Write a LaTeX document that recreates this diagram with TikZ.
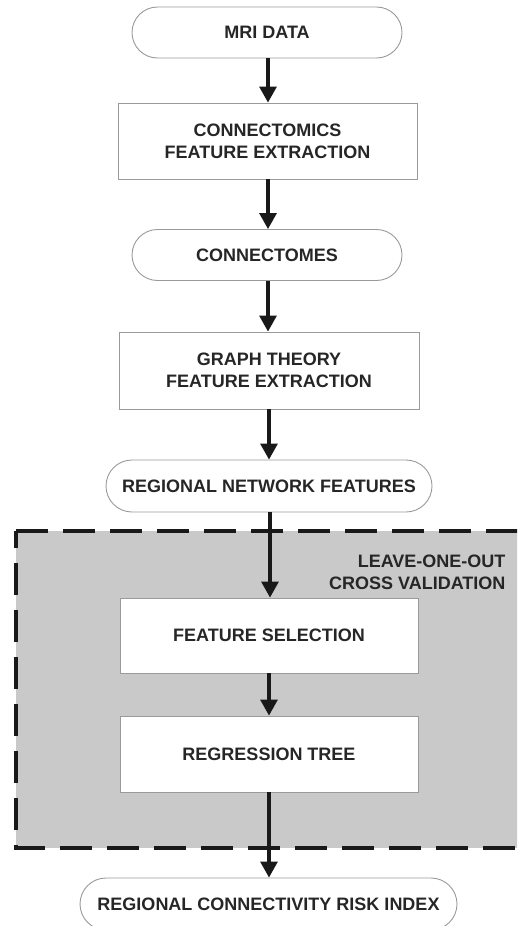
\documentclass[tikz,border=0pt]{standalone}
\usepackage{fontspec}
\setmainfont{Liberation Sans}
\usetikzlibrary{arrows.meta,shapes.misc}
\definecolor{edgegray}{HTML}{9A9A9A}
\definecolor{cvgray}{HTML}{C9C9C9}
\tikzset{
  every node/.style={font=\bfseries\fontsize{18}{22}\selectfont, text=black!85},
  term/.style={draw=edgegray, line width=0.9pt, fill=white, rounded rectangle, minimum height=51pt, inner xsep=0pt, align=center},
  proc/.style={draw=edgegray, line width=0.9pt, fill=white, rectangle, inner sep=0pt, align=center},
  flow/.style={line width=3.2pt, draw=black!90, -{Triangle[width=17pt,length=16pt]}, shorten >=0pt},
  cvbox/.style={fill=cvgray, draw=black!90, line width=3.5pt, dash pattern=on 32pt off 15pt}
}
\begin{document}
\begin{tikzpicture}[x=1pt,y=-1pt]
\useasboundingbox (0,0) rectangle (517,926);
\begin{scope}
  \clip (0,0) rectangle (517,926);
  % cross-validation region
  \draw[cvbox] (16,531) -- (530,531) -- (530,848) -- (16,848) -- cycle;
\end{scope}
\node[anchor=north east, align=right] (cvlabel) at (509,551) {LEAVE-ONE-OUT\\CROSS VALIDATION};

% pipeline nodes
\node[term, minimum width=270pt] (mri) at (267,32.5) {MRI DATA};
\node[proc, minimum width=299pt, minimum height=76pt] (cfe) at (267.5,141) {CONNECTOMICS\\FEATURE EXTRACTION};
\node[term, minimum width=270pt] (conn) at (267,255) {CONNECTOMES};
\node[proc, minimum width=300pt, minimum height=77pt] (gfe) at (269,370.5) {GRAPH THEORY\\FEATURE EXTRACTION};
\node[term, minimum width=326pt, minimum height=52pt] (rnf) at (269,486) {REGIONAL NETWORK FEATURES};
\node[proc, minimum width=298pt, minimum height=75pt] (fs) at (269,635.5) {FEATURE SELECTION};
\node[proc, minimum width=298pt, minimum height=76pt] (rt) at (269,754) {REGRESSION TREE};
\node[term, minimum width=377pt, minimum height=52pt] (rcri) at (268.5,904) {REGIONAL CONNECTIVITY RISK INDEX};

% connectors
\draw[flow] (mri.south -| 268,0) -- (cfe.north -| 268,0);
\draw[flow] (cfe.south -| 268,0) -- (conn.north -| 268,0);
\draw[flow] (conn.south -| 268,0) -- (gfe.north -| 268,0);
\draw[flow] (gfe.south -| 269,0) -- (rnf.north -| 269,0);
\draw[flow] (rnf.south -| 270,0) -- (fs.north -| 270,0);
\draw[flow] (fs.south -| 269,0) -- (rt.north -| 269,0);
\draw[flow] (rt.south -| 269,0) -- (rcri.north -| 269,0);
\end{tikzpicture}
\end{document}
